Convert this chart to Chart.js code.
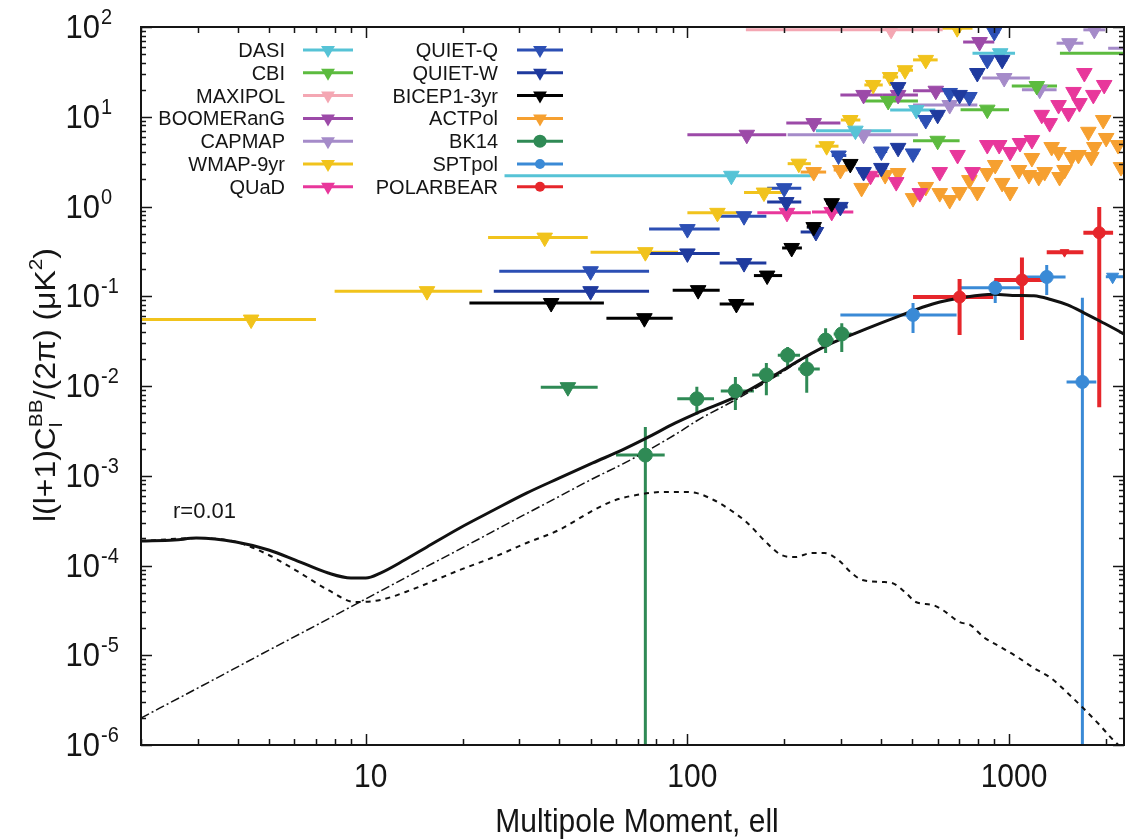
<!DOCTYPE html>
<html>
<head>
<meta charset="utf-8">
<script src="https://cdn.jsdelivr.net/npm/chart.js@4.4.1/dist/chart.umd.min.js"></script>
<style>
  html, body { margin: 0; padding: 0; background: #fff; }
</style>
</head>
<body>
<canvas id="c" width="1134" height="839"></canvas>
<script>
// upper limits: [ell, value, ellLo, ellHi]
// detections:   [ell, value, ellLo, ellHi, valueLo, valueHi]
const DASI = [[137, 2.2, 27, 251], [333, 7.0, 251, 430], [515, 11.9, 427, 590], [939, 51, 770, 1044]];
const CBI = [[421, 15, 355, 521], [600, 5.4, 503, 702], [856, 12, 707, 1000], [1220, 22, 1020, 1410], [2450, 51, 1440, 3000]];
const MAXIPOL = [[430, 93, 152, 622]];
const BOOMERANG = [[153, 6.3, 100, 203], [247, 8.5, 203, 299], [353, 17.5, 299, 403], [452, 17.5, 403, 521], [592, 19.5, 503, 682], [810, 68, 720, 900]];
const CAPMAP = [[353, 6.3, 205, 521], [654, 13.5, 503, 797], [966, 27, 826, 1161], [1246, 20, 1097, 1406], [1542, 66, 1406, 1703], [1842, 93, 1703, 1990], [2400, 58, 2034, 2800]];
const WMAP9 = [[4.4, 0.055, 2, 7], [15.5, 0.114, 8, 23], [36, 0.45, 24, 49], [74, 0.31, 50, 93.5], [124, 0.85, 100, 143],
  [173, 1.43, 150, 200], [222, 3.0, 205, 242], [271, 4.7, 250, 295], [321, 9.2, 300, 345], [378, 22.6, 355, 405],
  [427, 27.7, 405, 452], [475, 33, 452, 503], [551, 43, 503, 600], [690, 97, 620, 770]];
const QUAD = [[204, 0.85, 165, 242], [281, 0.87, 244, 328], [371, 2.2, 350, 395], [446, 1.87], [528, 1.41], [609, 2.42],
  [692, 3.75], [770, 2.42], [856, 4.84], [932, 4.84], [1008, 4.05], [1082, 5.1], [1178, 5.5], [1264, 10.5], [1338, 8.5],
  [1426, 13.5], [1531, 11.0], [1587, 18.9], [1656, 14.2], [1715, 30.7], [1829, 17.5], [1977, 22.6]];
const QUIET_Q = [[50, 0.19, 26, 76], [100, 0.56, 76, 126], [150, 0.78, 126, 176], [200, 1.6, 177, 226], [295, 3.7, 281, 312],
  [401, 4.1, 385, 418], [503, 3.9, 485, 522], [551, 9.2, 530, 572], [654, 18.4, 630, 680], [753, 16.6, 725, 782],
  [856, 43, 825, 888], [900, 88, 868, 935]];
const QUIET_W = [[50, 0.114, 25, 76], [100, 0.30, 76, 126], [150, 0.234, 126, 176], [203, 1.12, 177, 226], [251, 0.52, 225, 260],
  [299, 0.99, 285, 315], [353, 2.42, 340, 366], [401, 2.69, 385, 418], [452, 4.5, 435, 470], [452, 21.4, 435, 470],
  [600, 10.5, 578, 624], [702, 17.5, 676, 729], [797, 30.7, 768, 828], [952, 43, 918, 988]];
const BICEP1 = [[37.7, 0.084, 21, 55], [73.5, 0.057, 56, 90], [108, 0.117, 90, 126], [142, 0.082, 126, 161], [177, 0.17, 161, 197],
  [211, 0.345, 197, 227], [247, 0.59, 235, 260], [281, 1.09, 270, 295], [321, 2.98, 310, 333]];
const ACTPOL = [[247, 2.42, 225, 270], [299, 2.55, 285, 315], [348, 1.61], [412, 2.24], [452, 2.36], [503, 1.24], [551, 1.65],
  [609, 1.41], [654, 1.18], [702, 1.45], [753, 1.97], [797, 1.45], [856, 2.36], [906, 2.9], [952, 1.83], [1008, 1.45],
  [1074, 2.55], [1153, 2.24], [1178, 3.47], [1237, 2.13], [1291, 2.42], [1357, 4.6], [1426, 4.05], [1436, 2.13],
  [1488, 2.55], [1564, 3.56], [1644, 3.75], [1765, 6.8], [1803, 3.56], [1842, 4.6], [1963, 9.2], [2005, 5.8],
  [2183, 4.84], [2230, 2.75]];
const BK14 = [[74, 0.0017, 60, 85, 1e-7, 0.0035], [107, 0.0072, 93, 121, 0.0048, 0.0098], [141, 0.0088, 127, 161, 0.0054, 0.0126],
  [176, 0.0133, 159, 193, 0.0079, 0.018], [205, 0.022, 191, 224, 0.0163, 0.0272], [235, 0.0155, 221, 258, 0.0084, 0.0221],
  [269, 0.0325, 254, 285, 0.0233, 0.044], [302, 0.038, 285, 324, 0.024, 0.050]];
const BK14_LIMIT = [[42.5, 0.0097, 35, 52.6]];
const SPTPOL = [[503, 0.062, 299, 687, 0.039, 0.084], [906, 0.124, 707, 1082, 0.084, 0.152],
  [1310, 0.164, 1097, 1499, 0.103, 0.223], [1691, 0.0111, 1510, 1868, 1e-7, 0.096]];
const SPTPOL_LIMIT = [[2100, 0.165, 2000, 2400]];
const POLARBEAR = [[702, 0.098, 503, 893, 0.037, 0.156], [1097, 0.152, 900, 1291, 0.0325, 0.27], [1908, 0.51, 1703, 2107, 0.0058, 0.99]];
const POLARBEAR_LIMIT = [[1488, 0.31, 1310, 1703]];

// model curves (r=0.01)
const totalEll = [2, 2.54, 2.97, 3.95, 4.99, 6.04, 7.64, 8.99, 10, 11.1, 13.2, 15.5, 19.6, 25, 31.6, 39.9, 50.8, 62.8, 74.5, 91.5,
  107, 143, 186, 232, 281, 358, 455, 579, 738, 893, 1059, 1195, 1348, 1521, 1715, 1935, 2245, 2300];
const totalBB = [1.87e-4, 1.92e-4, 2.02e-4, 1.83e-4, 1.49e-4, 1.15e-4, 8.24e-5, 7.26e-5, 7.26e-5, 8.24e-5, 1.15e-4, 1.61e-4,
  2.62e-4, 4.15e-4, 6.4e-4, 9.4e-4, 1.39e-3, 1.94e-3, 2.62e-3, 3.85e-3, 5.0e-3, 7.7e-3, 1.31e-2, 2.1e-2, 3.0e-2, 4.3e-2,
  6.0e-2, 8.2e-2, 9.8e-2, 0.105, 0.102, 0.101, 0.092, 0.080, 0.065, 0.052, 0.039, 0.037];
const lensEll = [2, 3, 5, 7, 10, 15, 20, 30, 40, 50, 62.8, 74.5, 94.8, 107, 143, 186, 232, 281, 358];
const lensBB = [2.0e-6, 4.3e-6, 1.14e-5, 2.15e-5, 4.25e-5, 9.2e-5, 1.58e-4, 3.43e-4, 5.9e-4, 9.0e-4, 1.35e-3, 1.87e-3,
  3.1e-3, 4.1e-3, 7.2e-3, 1.25e-2, 2.07e-2, 2.98e-2, 4.28e-2];
const tensorEll = [2, 2.97, 3.95, 4.99, 6.04, 7.64, 9.25, 11.1, 13.8, 19.6, 25, 31.6, 39.9, 51.9, 59.8, 69.4, 84.1, 96.9, 107,
  120.7, 136, 153.7, 173, 196, 216, 244, 267, 295, 324, 350, 403, 433, 478, 513, 579, 622, 702, 759, 832, 939, 1059, 1195,
  1348, 1521, 1715, 1935, 2078, 2300];
const tensorBB = [1.87e-4, 2.02e-4, 1.83e-4, 1.31e-4, 8.9e-5, 5.33e-5, 3.92e-5, 4.13e-5, 5.33e-5, 8.91e-5, 1.24e-4, 1.78e-4,
  2.49e-4, 4.27e-4, 5.37e-4, 6.1e-4, 6.6e-4, 6.6e-4, 6.4e-4, 5.37e-4, 4.15e-4, 2.98e-4, 1.92e-4, 1.31e-4, 1.24e-4, 1.38e-4,
  1.38e-4, 1.15e-4, 8.24e-5, 6.89e-5, 6.55e-5, 6.38e-5, 4.94e-5, 3.92e-5, 3.63e-5, 3.19e-5, 2.34e-5, 2.17e-5, 1.6e-5,
  1.24e-5, 9.6e-6, 7.2e-6, 5.6e-6, 3.8e-6, 2.5e-6, 1.6e-6, 1.2e-6, 8.5e-7];

const yDecades = [-6, -5, -4, -3, -2, -1, 0, 1, 2];
const xTickLabels = [10, 100, 1000];
const legendLeft = ['DASI', 'CBI', 'MAXIPOL', 'BOOMERanG', 'CAPMAP', 'WMAP-9yr', 'QUaD'];
const legendRight = ['QUIET-Q', 'QUIET-W', 'BICEP1-3yr', 'ACTPol', 'BK14', 'SPTpol', 'POLARBEAR'];

const FONT = '"Liberation Sans", Arial, Helvetica, sans-serif';

function toPoints(rows) {
  return rows.map(r => ({
    x: r[0], y: r[1],
    xMin: r.length > 2 ? r[2] : null, xMax: r.length > 2 ? r[3] : null,
    yMin: r.length > 4 ? r[4] : null, yMax: r.length > 4 ? r[5] : null
  }));
}

function expSet(label, color, rows, opts) {
  opts = opts || {};
  return {
    label: label,
    data: toPoints(rows),
    showLine: false,
    pointStyle: opts.circle ? 'circle' : 'triangle',
    pointRotation: opts.circle ? 0 : 180,
    pointRadius: opts.radius || 9,
    pointBackgroundColor: color,
    pointBorderColor: color,
    pointBorderWidth: 1,
    errColor: color,
    errWidth: opts.errWidth || 3,
    inLegend: opts.inLegend !== false,
    legendRadius: opts.legendRadius,
    clip: 0
  };
}

function curve(ell, vals, width, dash) {
  return {
    label: '',
    data: ell.map((l, i) => ({ x: l, y: vals[i] })),
    showLine: true,
    borderColor: '#111',
    borderWidth: width,
    borderDash: dash,
    pointRadius: 0,
    cubicInterpolationMode: 'monotone',
    inLegend: false,
    clip: 0
  };
}

const datasets = [
  expSet('POLARBEAR', '#e6262b', POLARBEAR, { circle: true, radius: 6, errWidth: 4, legendRadius: 5 }),
  expSet('POLARBEAR', '#e6262b', POLARBEAR_LIMIT, { radius: 5, errWidth: 4, inLegend: false }),
  expSet('SPTpol', '#3a8ad6', SPTPOL, { circle: true, radius: 6.5, legendRadius: 5 }),
  expSet('SPTpol', '#3a8ad6', SPTPOL_LIMIT, { radius: 7, inLegend: false }),
  expSet('BK14', '#2f8a55', BK14, { circle: true, radius: 7, legendRadius: 6.5 }),
  expSet('BK14', '#2f8a55', BK14_LIMIT, { inLegend: false }),
  expSet('BICEP1-3yr', '#000000', BICEP1),
  expSet('QUIET-W', '#1f3a9e', QUIET_W),
  expSet('QUIET-Q', '#2c4fb4', QUIET_Q),
  expSet('DASI', '#56c3d6', DASI),
  expSet('CBI', '#5cbb3f', CBI),
  expSet('MAXIPOL', '#f4a7b3', MAXIPOL),
  expSet('BOOMERanG', '#9c4aa8', BOOMERANG),
  expSet('CAPMAP', '#a58bc9', CAPMAP),
  expSet('WMAP-9yr', '#f1c31c', WMAP9),
  expSet('QUaD', '#e8379b', QUAD),
  expSet('ACTPol', '#f6a030', ACTPOL),
  curve(totalEll, totalBB, 3, []),
  curve(lensEll, lensBB, 1.5, [9, 3, 2, 3]),
  curve(tensorEll, tensorBB, 2, [5, 5])
];

// error bars drawn from the data through the chart scales
const errorBars = {
  id: 'errorBars',
  beforeDatasetsDraw(chart) {
    const { ctx, chartArea: a, scales: { x, y } } = chart;
    ctx.save();
    ctx.beginPath();
    ctx.rect(a.left, a.top, a.right - a.left, a.bottom - a.top);
    ctx.clip();
    for (let i = chart.data.datasets.length - 1; i >= 0; i--) {
      const ds = chart.data.datasets[i];
      if (!ds.errColor) continue;
      ctx.strokeStyle = ds.errColor;
      ctx.lineWidth = ds.errWidth;
      ds.data.forEach(p => {
        const px = x.getPixelForValue(p.x), py = y.getPixelForValue(p.y);
        ctx.beginPath();
        if (p.xMin != null) {
          ctx.moveTo(x.getPixelForValue(p.xMin), py);
          ctx.lineTo(x.getPixelForValue(p.xMax), py);
        }
        if (p.yMin != null) {
          ctx.moveTo(px, y.getPixelForValue(p.yMin));
          ctx.lineTo(px, y.getPixelForValue(p.yMax));
        }
        ctx.stroke();
      });
    }
    ctx.restore();
  }
};

function stretchText(ctx, text, x, y, size, sy, align) {
  ctx.save();
  ctx.translate(x, y);
  ctx.scale(1, sy);
  ctx.font = size + 'px ' + FONT;
  ctx.textAlign = align;
  ctx.textBaseline = 'alphabetic';
  ctx.fillText(text, 0, 0);
  ctx.restore();
}

function legendMarker(ctx, style, x, y, r) {
  ctx.beginPath();
  if (style === 'circle') {
    ctx.arc(x, y, r, 0, Math.PI * 2);
  } else {
    ctx.moveTo(x - r * 0.866, y - r / 2);
    ctx.lineTo(x + r * 0.866, y - r / 2);
    ctx.lineTo(x, y + r);
    ctx.closePath();
  }
  ctx.fill();
}

const frame = {
  id: 'frame',
  afterDraw(chart) {
    const { ctx, chartArea: a, scales: { x, y } } = chart;
    ctx.save();
    ctx.strokeStyle = '#151515';
    ctx.fillStyle = '#151515';

    // inward tick marks on all four sides
    ctx.lineWidth = 1.5;
    ctx.beginPath();
    for (let e = 0; e <= 3; e++) {
      for (let m = 1; m <= 9; m++) {
        const v = m * Math.pow(10, e);
        if (v < x.min || v > x.max) continue;
        const px = Math.round(x.getPixelForValue(v)) + 0.5;
        const len = m === 1 ? 11 : 6;
        ctx.moveTo(px, a.bottom); ctx.lineTo(px, a.bottom - len);
        ctx.moveTo(px, a.top); ctx.lineTo(px, a.top + len);
      }
    }
    for (let e = -6; e <= 2; e++) {
      for (let m = 1; m <= 9; m++) {
        const v = m * Math.pow(10, e);
        if (v > y.max * 1.0001) continue;
        const py = Math.round(y.getPixelForValue(v)) + 0.5;
        const len = m === 1 ? 11 : 5;
        ctx.moveTo(a.left, py); ctx.lineTo(a.left + len, py);
        ctx.moveTo(a.right, py); ctx.lineTo(a.right - len, py);
      }
    }
    ctx.stroke();

    ctx.lineWidth = 2;
    ctx.strokeRect(a.left, a.top, a.right - a.left, a.bottom - a.top);

    // x tick labels and title
    xTickLabels.forEach(v => {
      stretchText(ctx, String(v), x.getPixelForValue(v) + 5, 787, 30, 1.1, 'center');
    });
    stretchText(ctx, 'Multipole Moment, ell', 637, 832, 30, 1.1, 'center');

    // y tick labels 10^n
    yDecades.forEach(e => {
      const py = y.getPixelForValue(Math.pow(10, e));
      stretchText(ctx, '10', 100, py + 11, 31, 1.1, 'right');
      stretchText(ctx, String(e), 101, py - 3, 20, 1.1, 'left');
    });

    // y axis title, rotated
    ctx.save();
    ctx.translate(55, 385);
    ctx.rotate(-Math.PI / 2);
    ctx.scale(1.1, 1);
    const big = 29, small = 19;
    const parts = [
      { t: 'l(l+1)C', s: big, dy: 0 },
      { t: 'l', s: small, dy: 7, stack: 'BB' },
      { t: '/(2\u03c0) (\u03bcK', s: big, dy: 0 },
      { t: '2', s: small, dy: -13 },
      { t: ')', s: big, dy: 0 }
    ];
    let total = 0;
    parts.forEach(p => {
      ctx.font = p.s + 'px ' + FONT;
      let w = ctx.measureText(p.t).width;
      if (p.stack) w = Math.max(w, ctx.measureText(p.stack).width);
      p.w = w;
      total += w;
    });
    let cx = -total / 2;
    ctx.textAlign = 'left';
    parts.forEach(p => {
      ctx.font = p.s + 'px ' + FONT;
      ctx.fillText(p.t, cx, p.dy);
      if (p.stack) ctx.fillText(p.stack, cx, -13);
      cx += p.w;
    });
    ctx.restore();

    // r label
    ctx.font = '22px ' + FONT;
    ctx.textAlign = 'left';
    ctx.fillText('r=0.01', 173, 518);

    // legend
    const cols = [
      { names: legendLeft, textRight: 285, mid: 328, half: 25 },
      { names: legendRight, textRight: 498, mid: 540, half: 23 }
    ];
    cols.forEach(col => {
      col.names.forEach((name, i) => {
        const ds = chart.data.datasets.find(d => d.label === name && d.inLegend);
        const rowY = 50 + i * 22.8;
        ctx.fillStyle = '#151515';
        ctx.font = '20px ' + FONT;
        ctx.textAlign = 'right';
        ctx.fillText(name, col.textRight, rowY + 7);
        ctx.strokeStyle = ds.errColor;
        ctx.fillStyle = ds.errColor;
        ctx.lineWidth = 3;
        ctx.beginPath();
        ctx.moveTo(col.mid - col.half, rowY);
        ctx.lineTo(col.mid + col.half, rowY);
        ctx.stroke();
        legendMarker(ctx, ds.pointStyle, col.mid, rowY, ds.legendRadius || 8);
      });
    });
    ctx.restore();
  }
};

new Chart(document.getElementById('c'), {
  type: 'scatter',
  data: { datasets: datasets },
  options: {
    responsive: false,
    animation: false,
    layout: { padding: { left: 141, right: 1, top: 27, bottom: 94 } },
    scales: {
      x: { type: 'logarithmic', min: 2, max: 2278, display: false },
      y: { type: 'logarithmic', min: 1e-6, max: 100, display: false }
    },
    plugins: { legend: { display: false }, tooltip: { enabled: false } }
  },
  plugins: [errorBars, frame]
});
</script>
</body>
</html>
